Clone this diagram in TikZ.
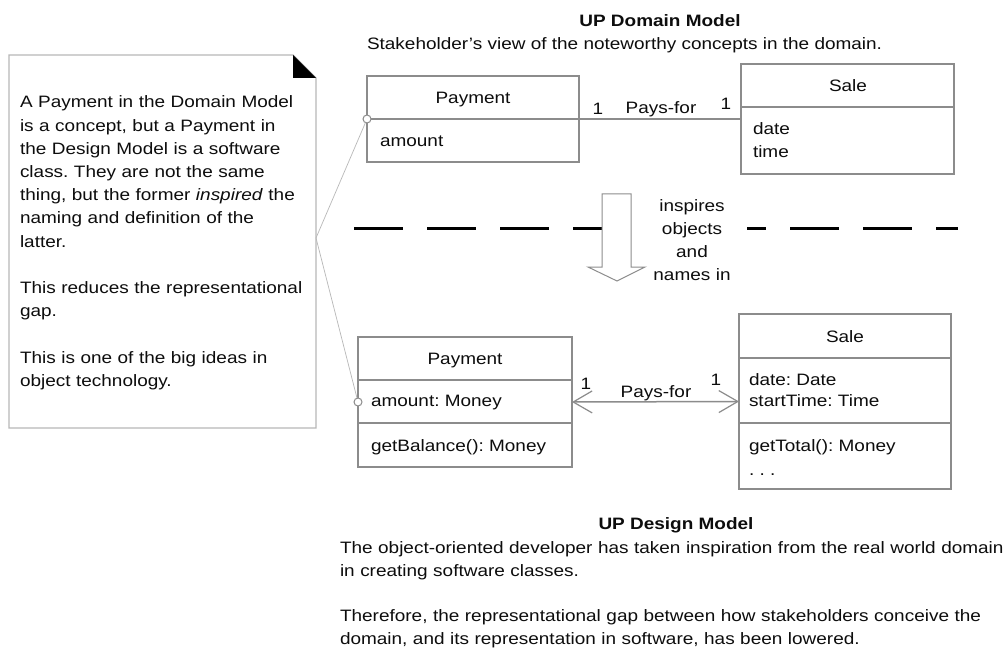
\documentclass[tikz,border=0pt]{standalone}
\usepackage{fontspec}
\setmainfont{Liberation Sans}[FakeStretch=1.15]
\usetikzlibrary{arrows.meta}
\definecolor{txt}{gray}{0.05}
\definecolor{boxline}{gray}{0.55}
\definecolor{noteline}{gray}{0.72}
\frenchspacing
\begin{document}
\begin{tikzpicture}[x=1pt,y=-1pt,
  every node/.style={inner sep=0pt, outer sep=0pt, text=txt, font=\fontsize{16.5}{23.2}\selectfont},
  umlbox/.style={draw=boxline, line width=1.2pt, rectangle, anchor=north west},
  divider/.style={draw=boxline, line width=1.2pt},
  assocline/.style={draw=boxline, line width=1.5pt},
  navassoc/.style={draw=boxline, line width=1.5pt, {Straight Barb[length=19pt,width=22pt,line width=1.2pt]}-{Straight Barb[length=19pt,width=22pt,line width=1.2pt]}},
  ifacecirc/.style={circle, draw=boxline, fill=white, line width=1pt, minimum size=8pt},
  noteconn/.style={draw=noteline, line width=0.7pt},
  lbl/.style={anchor=base},
  attr/.style={anchor=base west},
  para/.style={anchor=base west, align=left}]
\fill[white] (0,0) rectangle (1008,652);
\useasboundingbox (0,0) rectangle (1008,652);

% ---------- note ----------
\draw[draw=noteline, line width=1.2pt] (9,55) -- (293,55) -- (316,78) -- (316,428) -- (9,428) -- cycle;
\fill[black] (293,55) -- (316,78) -- (293,78) -- cycle;
\coordinate (notept) at (316,238);
\node[para, text width=340pt] (notetext) at (20,108) {A Payment in the Domain Model\\
is a concept, but a Payment in\\
the Design Model is a software\\
class. They are not the same\\
thing, but the former \textit{inspired} the\\
naming and definition of the\\
latter.\\[23.2pt]
This reduces the representational\\
gap.\\[23.2pt]
This is one of the big ideas in\\
object technology.};

% ---------- domain model ----------
\node[lbl] (udm) at (660,27) {\bfseries UP Domain Model};
\node[attr] (stk) at (367,50) {Stakeholder's view of the noteworthy concepts in the domain.};

\node[umlbox, minimum width=212pt, minimum height=86pt] (dpay) at (367,76) {};
\node[lbl] (dpayname) at (473,104) {Payment};
\node[attr] (dpayattr) at (380,147) {amount};

\node[umlbox, minimum width=213pt, minimum height=110pt] (dsale) at (741,64) {};
\draw[divider] (dsale.west |- 0,107) -- (dsale.east |- 0,107);
\node[lbl] (dsalename) at (848,92) {Sale};
\node[attr] (dsaledate) at (753,135) {date};
\node[attr] (dsaletime) at (753,158) {time};

\draw[assocline] (dpay.west) -- (dsale.west);
\node[lbl] (dm1) at (598,115) {1};
\node[lbl] (dpays) at (661,114) {Pays-for};
\node[lbl] (dm2) at (726,110) {1};
\node[ifacecirc] (c1) at (dpay.west) {};

% ---------- separator and inspiration arrow ----------
\draw[line width=3pt, dash pattern=on 49pt off 24pt] (354,229) -- (602,229);
\draw[line width=3pt, dash pattern=on 49pt off 24pt, dash phase=30pt] (747,229) -- (958,229);
\draw[draw=boxline, fill=white, line width=1pt] (602,194) -- (631,194) -- (631,267) -- (645,267) -- (617,281) -- (588,267) -- (602,267) -- cycle;
\node[anchor=base, text width=110pt, align=center, font=\fontsize{16.5}{22.7}\selectfont] (insp) at (692,212) {inspires\\objects\\and\\names in};

% ---------- design model ----------
\node[umlbox, minimum width=214pt, minimum height=130pt] (ppay) at (358,337) {};
\draw[divider] (ppay.west |- 0,380) -- (ppay.east |- 0,380);
\draw[divider] (ppay.west |- 0,423) -- (ppay.east |- 0,423);
\node[lbl] (ppayname) at (465,364) {Payment};
\node[attr] (ppayattr) at (371,406) {amount: Money};
\node[attr] (ppayop) at (371,451) {getBalance(): Money};

\node[umlbox, minimum width=212pt, minimum height=175pt] (psale) at (739,314) {};
\draw[divider] (psale.west |- 0,358) -- (psale.east |- 0,358);
\draw[divider] (psale.west |- 0,423) -- (psale.east |- 0,423);
\node[lbl] (psalename) at (845,342) {Sale};
\node[attr] (psaledate) at (749,385) {date: Date};
\node[attr] (psaletime) at (749,406) {startTime: Time};
\node[attr] (psaleop) at (749,451) {getTotal(): Money};
\node[attr] (psaledots) at (749,475) {. . .};

\draw[navassoc] (ppay.east) -- (psale.west);
\node[lbl] (pm1) at (586,389) {1};
\node[lbl] (ppays) at (656,397) {Pays-for};
\node[lbl] (pm2) at (716,385) {1};
\node[ifacecirc] (c2) at (ppay.west) {};

% ---------- note connectors ----------
\draw[noteconn] (notept) -- (c1);
\draw[noteconn] (notept) -- (c2);

\node[lbl] (udes) at (676,529) {\bfseries UP Design Model};
\node[para, text width=700pt] (destext) at (340,553) {The object-oriented developer has taken inspiration from the real world domain\\
in creating software classes.\\[22pt]
Therefore, the representational gap between how stakeholders conceive the\\
domain, and its representation in software, has been lowered.};
\end{tikzpicture}
\end{document}
